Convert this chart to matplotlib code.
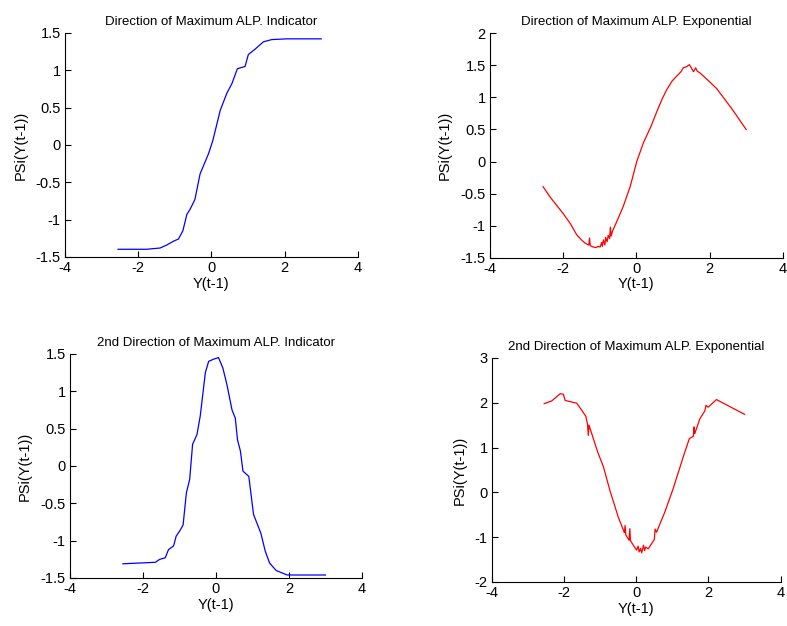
import matplotlib
matplotlib.use("Agg")
import matplotlib.pyplot as plt

plt.rcParams['font.family'] = ['Liberation Sans', 'DejaVu Sans']
plt.rcParams['axes.unicode_minus'] = False
# Use an Arial-like font and plain hyphens, like the original MATLAB figure

# Top-left: direction of maximum ALP, indicator
x_ind1 = [-2.55, -1.77, -1.40, -1.22, -1.04, -0.90, -0.78, -0.67, -0.58, -0.45, -0.31, -0.20,
          -0.08, 0.04, 0.13, 0.24, 0.42, 0.56, 0.71, 0.92, 1.01, 1.19, 1.42, 1.65, 2.06, 3.0]
y_ind1 = [-1.397, -1.397, -1.38, -1.34, -1.29, -1.26, -1.15, -0.93, -0.86, -0.73, -0.39, -0.26,
          -0.12, 0.06, 0.24, 0.46, 0.69, 0.82, 1.02, 1.05, 1.21, 1.28, 1.38, 1.41, 1.42, 1.42]

# Top-right: direction of maximum ALP, exponential
x_exp1 = [-2.55, -2.36, -2.0, -1.80, -1.63, -1.50, -1.40, -1.30, -1.28, -1.26, -1.18, -1.10,
          -1.05, -0.99, -0.95, -0.93, -0.90, -0.86, -0.84, -0.80, -0.77, -0.73, -0.71, -0.69,
          -0.65, -0.54, -0.36, -0.17, 0.01, 0.19, 0.40, 0.56, 0.70, 0.83, 0.97, 1.10, 1.22,
          1.28, 1.38, 1.45, 1.52, 1.56, 1.62, 1.66, 1.74, 1.95, 2.19, 2.60, 3.0]
y_exp1 = [-0.39, -0.55, -0.81, -0.97, -1.14, -1.22, -1.27, -1.30, -1.19, -1.31, -1.33, -1.34,
          -1.32, -1.33, -1.26, -1.32, -1.22, -1.30, -1.18, -1.25, -1.15, -1.20, -1.02, -1.16,
          -1.08, -0.94, -0.70, -0.39, 0.0, 0.29, 0.55, 0.78, 0.97, 1.12, 1.25, 1.33, 1.40,
          1.46, 1.48, 1.51, 1.44, 1.40, 1.46, 1.41, 1.38, 1.27, 1.14, 0.83, 0.50]

# Bottom-left: 2nd direction of maximum ALP, indicator
x_ind2 = [-2.55, -1.66, -1.54, -1.39, -1.30, -1.16, -1.09, -0.98, -0.90, -0.81, -0.72, -0.64,
          -0.52, -0.43, -0.29, -0.20, -0.06, 0.07, 0.19, 0.30, 0.44, 0.53, 0.59, 0.67, 0.74,
          0.90, 1.03, 1.23, 1.35, 1.47, 1.65, 1.95, 3.0]
y_ind2 = [-1.31, -1.29, -1.25, -1.23, -1.12, -1.07, -0.94, -0.86, -0.79, -0.36, -0.18, 0.29,
          0.42, 0.67, 1.25, 1.40, 1.43, 1.45, 1.31, 1.09, 0.75, 0.64, 0.35, 0.20, -0.07,
          -0.14, -0.65, -0.90, -1.14, -1.30, -1.40, -1.46, -1.46]

# Bottom-right: 2nd direction of maximum ALP, exponential
x_exp2 = [-2.55, -2.34, -2.11, -2.02, -1.97, -1.65, -1.51, -1.40, -1.35, -1.33, -1.31, -1.19,
          -1.07, -0.91, -0.73, -0.50, -0.33, -0.31, -0.29, -0.20, -0.18, -0.16, -0.05, 0.01,
          0.05, 0.08, 0.12, 0.15, 0.20, 0.23, 0.26, 0.33, 0.50, 0.52, 0.56, 0.79, 1.02,
          1.30, 1.47, 1.58, 1.60, 1.62, 1.76, 1.90, 1.93, 1.99, 2.22, 3.0]
y_exp2 = [1.98, 2.04, 2.20, 2.19, 2.05, 1.99, 1.83, 1.70, 1.52, 1.27, 1.50, 1.20,
          0.90, 0.57, 0.04, -0.55, -0.90, -0.74, -0.95, -1.07, -0.81, -1.08, -1.22, -1.29,
          -1.20, -1.33, -1.25, -1.35, -1.18, -1.30, -1.22, -1.26, -1.05, -0.82, -0.89, -0.44, 0.08,
          0.79, 1.20, 1.25, 1.46, 1.31, 1.64, 1.82, 1.94, 1.90, 2.07, 1.74]

panels = [
    ([0.0826, 0.5895, 0.372, 0.358], x_ind1, y_ind1, 'b', (-1.5, 1.5), 0.5,
     'Direction of Maximum ALP. Indicator'),
    ([0.6226, 0.588, 0.372, 0.359], x_exp1, y_exp1, 'r', (-1.5, 2), 0.5,
     'Direction of Maximum ALP. Exponential'),
    ([0.0889, 0.0767, 0.371, 0.358], x_ind2, y_ind2, 'b', (-1.5, 1.5), 0.5,
     '2nd Direction of Maximum ALP. Indicator'),
    ([0.625, 0.0703, 0.367, 0.358], x_exp2, y_exp2, 'r', (-2, 3), 1,
     '2nd Direction of Maximum ALP. Exponential'),
]

fig = plt.figure(figsize=(7.87, 6.26), dpi=100)

for pos, xs, ys, col, ylim, ystep, title in panels:
    ax = fig.add_axes(pos)
    ax.plot(xs, ys, color=col, linewidth=0.9)
    ax.set_xlim(-4, 4)
    ax.set_ylim(*ylim)
    ax.set_xticks([-4, -2, 0, 2, 4])
    yt = []
    v = ylim[0]
    while v <= ylim[1] + 1e-9:
        yt.append(v)
        v += ystep
    ax.set_yticks(yt)
    ax.set_yticklabels(['%g' % t for t in yt])
    ax.spines['top'].set_visible(False)
    ax.spines['right'].set_visible(False)
    ax.tick_params(direction='in', length=4, labelsize=10.5, pad=3)
    ax.set_xlabel('Y(t-1)', fontsize=10.5, labelpad=1)
    ax.set_ylabel('PSi(Y(t-1))', fontsize=10.5, labelpad=6)
    ax.set_title(title, fontsize=9.5, pad=6)

fig.savefig('out.png', dpi=100)
